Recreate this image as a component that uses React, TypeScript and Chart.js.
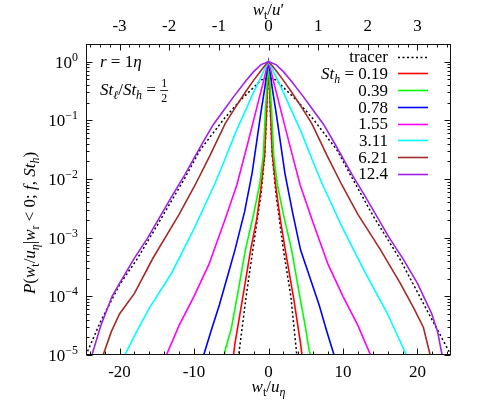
import React, { useEffect, useRef } from "react";
import { Chart, registerables } from "chart.js";

Chart.register(...registerables);

// ---------- axis settings ----------
const xMin = -24.5;
const xMax = 24.5;
const yMin = 1e-5;
const yMax = 2;
const topFactor = 0.15; // w_t/u' = 0.15 * w_t/u_eta

const bottomTicks = [-20, -10, 0, 10, 20];
const topTicks = [-3, -2, -1, 0, 1, 2, 3];
const yTickExps = [0, -1, -2, -3, -4, -5];

// ---------- series ----------
const legendLabels = ["tracer", "0.19", "0.39", "0.78", "1.55", "3.11", "6.21", "12.4"];

// tracer (wide)
const tracerX = [-25, -24.5, -22.6, -20, -17.7, -15, -11.3, -9.2, -6, -3.8, -2, -1, 0, 1, 2, 3.8, 6, 9.2, 11.3, 14, 17.7, 21.5, 24.5, 25];
const tracerP = [7.1e-6, 1.0e-5, 3.6e-5, 1.58e-4, 4.2e-4, 1.58e-3, 0.01, 0.031, 0.105, 0.219, 0.363, 0.49, 0.525, 0.49, 0.363, 0.219, 0.105, 0.031, 0.01, 2.4e-3, 4.2e-4, 5.1e-5, 1.0e-5, 7.6e-6];

// tracer (narrow)
const tracerNX = [-4.2, -4.0, -3.0, -2.1, -1.0, -0.5, -0.25, 0, 0.25, 0.5, 1.0, 2.0, 3.0, 3.8, 4.0];
const tracerNP = [6.3e-6, 1e-5, 1e-4, 6.2e-4, 5.6e-3, 0.0251, 0.141, 1.0, 0.141, 0.0251, 5.6e-3, 6.2e-4, 1e-4, 1e-5, 6.3e-6];

// St_h = 0.19
const st019X = [-4.9, -4.7, -4.5, -3.5, -2.4, -1.6, -1.0, -0.5, -0.25, 0, 0.25, 0.5, 1.0, 1.6, 2.25, 3.4, 4.3, 4.5, 4.7];
const st019P = [6.3e-6, 1e-5, 1.58e-5, 8.9e-5, 6.2e-4, 2e-3, 7.1e-3, 0.0282, 0.158, 1.0, 0.158, 0.0282, 7.1e-3, 2e-3, 6.2e-4, 8.9e-5, 1.58e-5, 1e-5, 6.3e-6];

// St_h = 0.39
const st039X = [-6.1, -5.95, -5.7, -5.6, -5.0, -4.2, -3.1, -2.0, -1.2, -0.7, -0.4, -0.15, 0, 0.15, 0.4, 0.7, 1.2, 2.0, 3.1, 4.2, 5.0, 5.3, 5.6, 5.8];
const st039P = [6.3e-6, 1e-5, 1.4e-5, 1.52e-5, 2.8e-5, 1e-4, 6.2e-4, 2.5e-3, 7.9e-3, 0.0251, 0.158, 0.5, 1.0, 0.5, 0.158, 0.0251, 7.9e-3, 2.5e-3, 6.2e-4, 1e-4, 2.8e-5, 1.58e-5, 1e-5, 6.3e-6];

// St_h = 0.78
const st078X = [-9.0, -8.7, -7.7, -6.6, -5.5, -4.5, -3.2, -2.2, -1.4, -1.0, -0.5, -0.2, 0, 0.2, 0.5, 1.0, 1.4, 2.2, 3.2, 4.3, 5.5, 6.8, 7.8, 8.8, 9.1];
const st078P = [6.3e-6, 1e-5, 2.6e-5, 7.1e-5, 2.2e-4, 6.2e-4, 2.8e-3, 0.0126, 0.063, 0.141, 0.355, 0.7, 1.0, 0.7, 0.355, 0.141, 0.063, 0.0126, 2.8e-3, 6.2e-4, 2.2e-4, 7.1e-5, 2.6e-5, 1e-5, 6.3e-6];

// St_h = 1.55
const st155X = [-14.1, -13.7, -12, -10, -8, -6, -4.25, -2.8, -1.5, -0.7, -0.3, 0, 0.3, 0.7, 1.5, 2.8, 4.25, 6, 8, 10, 12, 13.7, 14.1];
const st155P = [6.3e-6, 1e-5, 3.2e-5, 1e-4, 3.5e-4, 1.78e-3, 7.9e-3, 0.04, 0.178, 0.447, 0.724, 1.0, 0.724, 0.447, 0.178, 0.04, 7.9e-3, 1.78e-3, 3.5e-4, 1e-4, 3.2e-5, 1e-5, 6.3e-6];

// St_h = 3.11
const st311X = [-19.7, -19.3, -17.7, -16, -13, -10, -7.2, -5.8, -4.4, -2.9, -2, -1, -0.5, 0, 0.5, 1, 2, 2.9, 4.4, 5.8, 7.2, 10, 13, 16, 18.5, 18.9];
const st311P = [6.3e-6, 1e-5, 2.5e-5, 6.3e-5, 2.5e-4, 1.41e-3, 8.3e-3, 0.0224, 0.063, 0.166, 0.3, 0.55, 0.75, 1.0, 0.75, 0.55, 0.3, 0.166, 0.063, 0.0224, 8.3e-3, 1.41e-3, 2.5e-4, 5e-5, 1e-5, 6.3e-6];

// St_h = 6.21
const st621X = [-22.6, -22.2, -21.1, -20, -18, -15.5, -12, -9.85, -7.8, -5.8, -4.3, -3, -2, -1, -0.5, 0, 0.5, 1, 2, 3, 4.3, 5.8, 7.8, 9.85, 12, 15, 17.7, 19.5, 20.8, 21.7, 22];
const st621P = [6.3e-6, 1e-5, 2.5e-5, 5.0e-5, 1.12e-4, 4.5e-4, 2.5e-3, 7.9e-3, 0.026, 0.089, 0.178, 0.316, 0.48, 0.708, 0.85, 1.0, 0.85, 0.708, 0.48, 0.316, 0.178, 0.089, 0.026, 7.9e-3, 2.5e-3, 6.3e-4, 1.66e-4, 6.3e-5, 2.95e-5, 1e-5, 6.3e-6];

// St_h = 12.4
const st124X = [-24, -23.7, -22.5, -21, -20, -18, -16.2, -13, -11.2, -9, -7.4, -6, -4.7, -3, -2, -1, 0, 1, 2, 3, 4.7, 6, 7.4, 9, 11.2, 13, 16.2, 18, 20, 21.9, 22.7, 23.3, 23.6];
const st124P = [6.3e-6, 1e-5, 3.2e-5, 1e-4, 1.66e-4, 4.47e-4, 1e-3, 5e-3, 0.012, 0.038, 0.085, 0.148, 0.251, 0.479, 0.676, 0.891, 1.0, 0.891, 0.676, 0.479, 0.251, 0.148, 0.085, 0.038, 0.012, 5e-3, 1e-3, 4.47e-4, 1.66e-4, 5.1e-5, 2.5e-5, 1e-5, 6.3e-6];

const seriesColors = ["#000000", "#ff0000", "#00ff00", "#0000ff", "#ff00ff", "#00ffff", "#a52a2a", "#a020f0"];

// ---------- rich text helper ----------
type Run = { t: string; it?: boolean; sub?: boolean; sup?: boolean; small?: boolean };
const FONT = '"Liberation Serif", "DejaVu Serif", serif';

function fontFor(r: Run, size: number) {
  const s = r.sub || r.sup || r.small ? size * 0.7 : size;
  return `${r.it ? "italic " : ""}${s}px ${FONT}`;
}
function runsWidth(ctx: CanvasRenderingContext2D, runs: Run[], size: number) {
  let w = 0;
  for (const r of runs) {
    ctx.font = fontFor(r, size);
    w += ctx.measureText(r.t).width;
  }
  return w;
}
function drawRuns(ctx: CanvasRenderingContext2D, runs: Run[], x: number, y: number, size: number, align: "left" | "center" | "right") {
  const total = runsWidth(ctx, runs, size);
  let cx = align === "right" ? x - total : align === "center" ? x - total / 2 : x;
  ctx.textAlign = "left";
  ctx.textBaseline = "alphabetic";
  for (const r of runs) {
    ctx.font = fontFor(r, size);
    const dy = r.sub ? size * 0.22 : r.sup ? -size * 0.42 : 0;
    ctx.fillText(r.t, cx, y + dy);
    cx += ctx.measureText(r.t).width;
  }
  return cx;
}

const framePlugin = {
  id: "gnuframe",
  afterDraw(chart: any) {
    const ctx: CanvasRenderingContext2D = chart.ctx;
    const { left, right, top, bottom } = chart.chartArea;
    const xs = chart.scales.x;
    const x2 = chart.scales.x2;
    const ys = chart.scales.y;
    ctx.save();
    ctx.strokeStyle = "#111";
    ctx.lineWidth = 1;
    const L = Math.round(left) + 0.5, R = Math.round(right) - 0.5, T = Math.round(top) + 0.5, B = Math.round(bottom) - 0.5;
    ctx.strokeRect(L, T, R - L, B - T);
    const major = 6, minor = 3;
    ctx.beginPath();
    for (let v = -24; v <= 24; v += 2) {
      const px = Math.round(xs.getPixelForValue(v)) + 0.5;
      const len = v % 10 === 0 ? major : minor;
      ctx.moveTo(px, B); ctx.lineTo(px, B - len);
    }
    for (let k = -18; k <= 18; k++) {
      const v = k * 0.2;
      const px = Math.round(x2.getPixelForValue(v)) + 0.5;
      const len = k % 5 === 0 ? major : minor;
      ctx.moveTo(px, T); ctx.lineTo(px, T + len);
    }
    for (let d = -5; d <= 0; d++) {
      for (let m = 1; m <= 9; m++) {
        const v = m * Math.pow(10, d);
        if (v > yMax * 0.999) continue;
        const py = Math.round(ys.getPixelForValue(v)) + 0.5;
        const len = m === 1 ? major : minor;
        ctx.moveTo(L, py); ctx.lineTo(L + len, py);
        ctx.moveTo(R, py); ctx.lineTo(R - len, py);
      }
    }
    ctx.stroke();

    ctx.fillStyle = "#000";
    const fs = 17;
    for (const v of bottomTicks) {
      drawRuns(ctx, [{ t: String(v) }], xs.getPixelForValue(v), 377, fs, "center");
    }
    for (const v of topTicks) {
      drawRuns(ctx, [{ t: String(v) }], x2.getPixelForValue(v), 31, fs, "center");
    }
    for (const e of yTickExps) {
      const py = ys.getPixelForValue(Math.pow(10, e));
      const ex = e === 0 ? "0" : "\u2212" + String(-e);
      drawRuns(ctx, [{ t: "10" }, { t: ex, sup: true }], 78, py + 6, fs, "right");
    }
    const cxMid = xs.getPixelForValue(0);
    drawRuns(ctx, [{ t: "w", it: true }, { t: "t", sub: true }, { t: "/" }, { t: "u", it: true }, { t: "\u03b7", it: true, sub: true }], cxMid, 392, fs, "center");
    drawRuns(ctx, [{ t: "w", it: true }, { t: "t", sub: true }, { t: "/" }, { t: "u", it: true }, { t: "\u2032" }], cxMid, 15, fs, "center");

    ctx.save();
    ctx.translate(35, 223);
    ctx.rotate(-Math.PI / 2);
    drawRuns(ctx, [
      { t: "P", it: true }, { t: "(" }, { t: "w", it: true }, { t: "t", sub: true }, { t: "/" }, { t: "u", it: true }, { t: "\u03b7", it: true, sub: true },
      { t: "|" }, { t: "w", it: true }, { t: "r", sub: true }, { t: " < 0; " }, { t: "f", it: true }, { t: ", " },
      { t: "St", it: true }, { t: "h", it: true, sub: true }, { t: ")" },
    ], 0, 0, fs, "center");
    ctx.restore();

    drawRuns(ctx, [{ t: "r", it: true }, { t: " = 1" }, { t: "\u03b7", it: true }], 100, 67, fs, "left");
    const ex = drawRuns(ctx, [{ t: "St", it: true }, { t: "\u2113", it: true, sub: true }, { t: "/" }, { t: "St", it: true }, { t: "h", it: true, sub: true }, { t: " = " }], 100, 95, fs, "left");
    ctx.font = `${fs * 0.7}px ${FONT}`;
    const fw = ctx.measureText("2").width;
    ctx.textAlign = "center";
    ctx.fillText("1", ex + fw / 2 + 1, 87);
    ctx.fillText("2", ex + fw / 2 + 1, 102);
    ctx.fillRect(ex, 90, fw + 2, 0.8);

    const rowY = [56.7, 73.3, 90.2, 107, 123.7, 140.3, 157, 173.7];
    const datasets = chart.data.datasets;
    for (let i = 0; i < legendLabels.length; i++) {
      const y = rowY[i];
      ctx.fillStyle = "#000";
      const runs: Run[] = i === 1 ? [{ t: "St", it: true }, { t: "h", it: true, sub: true }, { t: " = " + legendLabels[i] }] : [{ t: legendLabels[i] }];
      drawRuns(ctx, runs, 388, y + 5.5, fs, "right");
      const ds = datasets[i === 0 ? 0 : i + 1];
      ctx.strokeStyle = ds.borderColor;
      ctx.lineWidth = ds.borderWidth;
      ctx.setLineDash(ds.borderDash || []);
      ctx.beginPath();
      ctx.moveTo(398, Math.round(y) + 0.5);
      ctx.lineTo(428, Math.round(y) + 0.5);
      ctx.stroke();
      ctx.setLineDash([]);
    }
    ctx.restore();
  },
};

function toPts(xs: number[], ps: number[]) {
  return xs.map((x, i) => ({ x, y: ps[i] }));
}

export default function App() {
  const ref = useRef<HTMLCanvasElement | null>(null);
  useEffect(() => {
    if (!ref.current) return;
    const seriesData = [
      toPts(tracerX, tracerP),
      toPts(tracerNX, tracerNP),
      toPts(st019X, st019P),
      toPts(st039X, st039P),
      toPts(st078X, st078P),
      toPts(st155X, st155P),
      toPts(st311X, st311P),
      toPts(st621X, st621P),
      toPts(st124X, st124P),
    ];
    const colorIdx = [0, 0, 1, 2, 3, 4, 5, 6, 7];
    const datasets = seriesData.map((d, i) => ({
      data: d,
      borderColor: seriesColors[colorIdx[i]],
      borderWidth: i < 2 ? 1.5 : 1.6,
      borderDash: i < 2 ? [2, 2.5] : undefined,
      pointRadius: 0,
      fill: false,
      tension: 0,
      order: 20 - i,
    }));
    const chart = new Chart(ref.current, {
      type: "line",
      data: { datasets: datasets as any },
      options: {
        animation: false,
        responsive: false,
        events: [],
        layout: { padding: { left: 86, right: 32, top: 44, bottom: 47 } },
        plugins: { legend: { display: false }, tooltip: { enabled: false } },
        scales: {
          x: { type: "linear", min: xMin, max: xMax, display: false },
          x2: { type: "linear", position: "top", min: xMin * topFactor, max: xMax * topFactor, display: false },
          y: { type: "logarithmic", min: yMin, max: yMax, display: false },
        },
      },
      plugins: [framePlugin as any],
    });
    return () => chart.destroy();
  }, []);
  return (
    <div style={{ position: "absolute", left: 0, top: 0, width: 483, height: 402, background: "#fff" }}>
      <canvas ref={ref} width={483} height={402} />
    </div>
  );
}
